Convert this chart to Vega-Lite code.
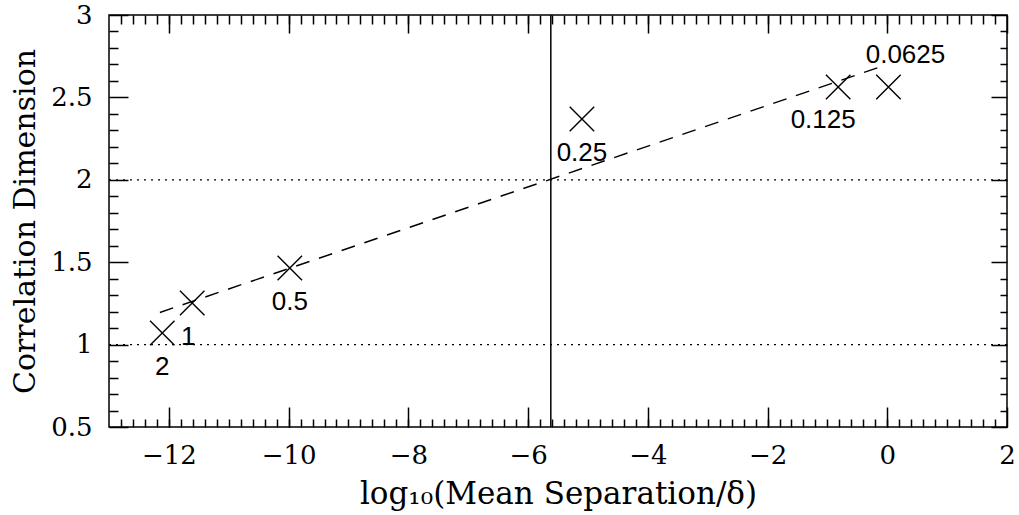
{
  "$schema": "https://vega.github.io/schema/vega-lite/v6.json",
  "width": 898,
  "height": 412,
  "autosize": {"type": "none"},
  "padding": {"left": 109, "top": 15, "right": 12, "bottom": 88},
  "background": "white",
  "config": {
    "view": {"stroke": "black", "strokeWidth": 1.5},
    "axis": {
      "grid": false,
      "domain": false,
      "tickColor": "black",
      "tickWidth": 1.5,
      "labelColor": "black",
      "labelFont": "DejaVu Serif",
      "labelFontSize": 26,
      "labelFlush": false,
      "labelOverlap": false,
      "titleColor": "black",
      "titleFont": "DejaVu Serif",
      "titleFontSize": 31,
      "titleFontWeight": "normal"
    }
  },
  "datasets": {
    "dims": [
      {"x": -12.11, "y": 1.07, "label": "2"},
      {"x": -11.61, "y": 1.252, "label": "1"},
      {"x": -9.98, "y": 1.465, "label": "0.5"},
      {"x": -5.1, "y": 2.369, "label": "0.25"},
      {"x": -0.82, "y": 2.563, "label": "0.125"},
      {"x": 0.02, "y": 2.563, "label": "0.0625"}
    ],
    "fit": [
      {"x": -12.15, "y": 1.195},
      {"x": -0.04, "y": 2.695}
    ],
    "vline": [{"x": -5.62}],
    "hlines": [{"y": 1}, {"y": 2}]
  },
  "layer": [
    {
      "data": {"name": "dims"},
      "mark": {"type": "point", "shape": "M-1,-1L1,1M-1,1L1,-1", "size": 600, "filled": false, "color": "black", "strokeWidth": 1.4, "opacity": 1},
      "encoding": {
        "x": {
          "field": "x", "type": "quantitative",
          "scale": {"domain": [-13, 2], "nice": false, "zero": false},
          "axis": {
            "orient": "bottom",
            "values": [-12, -10, -8, -6, -4, -2, 0, 2],
            "format": "~g",
            "offset": -20,
            "tickSize": 20,
            "labelPadding": 15,
            "title": "log₁₀(Mean Separation/δ)",
            "titlePadding": 11
          }
        },
        "y": {
          "field": "y", "type": "quantitative",
          "scale": {"domain": [0.5, 3], "nice": false, "zero": false},
          "axis": {
            "orient": "left",
            "values": [0.5, 1, 1.5, 2, 2.5, 3],
            "format": "~g",
            "offset": -19,
            "tickSize": 19,
            "labelPadding": 17,
            "title": "Correlation Dimension",
            "titleFontSize": 30,
            "titlePadding": 10
          }
        }
      }
    },
    {
      "data": {"name": "fit"},
      "mark": {"type": "line", "color": "black", "strokeWidth": 1.4, "strokeDash": [14, 10]},
      "encoding": {
        "x": {
          "field": "x", "type": "quantitative",
          "axis": {
            "orient": "bottom",
            "values": [-12.8,-12.6,-12.4,-12.2,-12.0,-11.8,-11.6,-11.4,-11.2,-11.0,-10.8,-10.6,-10.4,-10.2,-10.0,-9.8,-9.6,-9.4,-9.2,-9.0,-8.8,-8.6,-8.4,-8.2,-8.0,-7.8,-7.6,-7.4,-7.2,-7.0,-6.8,-6.6,-6.4,-6.2,-6.0,-5.8,-5.6,-5.4,-5.2,-5.0,-4.8,-4.6,-4.4,-4.2,-4.0,-3.8,-3.6,-3.4,-3.2,-3.0,-2.8,-2.6,-2.4,-2.2,-2.0,-1.8,-1.6,-1.4,-1.2,-1.0,-0.8,-0.6,-0.4,-0.2,0,0.2,0.4,0.6,0.8,1.0,1.2,1.4,1.6,1.8],
            "offset": -8,
            "tickSize": 8,
            "labels": false,
            "title": null
          }
        },
        "y": {
          "field": "y", "type": "quantitative",
          "axis": {
            "orient": "left",
            "values": [0.6,0.7,0.8,0.9,1.1,1.2,1.3,1.4,1.6,1.7,1.8,1.9,2.1,2.2,2.3,2.4,2.6,2.7,2.8,2.9],
            "offset": -9,
            "tickSize": 9,
            "labels": false,
            "title": null
          }
        }
      }
    },
    {
      "data": {"name": "vline"},
      "mark": {"type": "rule", "color": "black", "strokeWidth": 1.5},
      "encoding": {
        "x": {
          "field": "x", "type": "quantitative",
          "axis": {
            "orient": "top",
            "values": [-12, -10, -8, -6, -4, -2, 0, 2],
            "offset": -18,
            "tickSize": 18,
            "labels": false,
            "title": null
          }
        }
      }
    },
    {
      "data": {"name": "hlines"},
      "mark": {"type": "rule", "color": "black", "strokeWidth": 1.3, "strokeDash": [2, 5]},
      "encoding": {
        "y": {
          "field": "y", "type": "quantitative",
          "axis": {
            "orient": "right",
            "values": [0.5, 1, 1.5, 2, 2.5, 3],
            "offset": -16,
            "tickSize": 16,
            "labels": false,
            "title": null
          }
        }
      }
    },
    {
      "data": {"name": "dims"},
      "transform": [{"filter": {"field": "label", "oneOf": ["2", "0.5", "0.25"]}}],
      "mark": {"type": "text", "font": "Liberation Sans", "fontSize": 26, "color": "black", "align": "center", "baseline": "middle", "dy": 34},
      "encoding": {
        "x": {
          "field": "x", "type": "quantitative",
          "axis": {
            "orient": "top",
            "values": [-12.8,-12.6,-12.4,-12.2,-12.0,-11.8,-11.6,-11.4,-11.2,-11.0,-10.8,-10.6,-10.4,-10.2,-10.0,-9.8,-9.6,-9.4,-9.2,-9.0,-8.8,-8.6,-8.4,-8.2,-8.0,-7.8,-7.6,-7.4,-7.2,-7.0,-6.8,-6.6,-6.4,-6.2,-6.0,-5.8,-5.6,-5.4,-5.2,-5.0,-4.8,-4.6,-4.4,-4.2,-4.0,-3.8,-3.6,-3.4,-3.2,-3.0,-2.8,-2.6,-2.4,-2.2,-2.0,-1.8,-1.6,-1.4,-1.2,-1.0,-0.8,-0.6,-0.4,-0.2,0,0.2,0.4,0.6,0.8,1.0,1.2,1.4,1.6,1.8],
            "offset": -9,
            "tickSize": 9,
            "labels": false,
            "title": null
          }
        },
        "y": {
          "field": "y", "type": "quantitative",
          "axis": {
            "orient": "right",
            "values": [0.6,0.7,0.8,0.9,1.1,1.2,1.3,1.4,1.6,1.7,1.8,1.9,2.1,2.2,2.3,2.4,2.6,2.7,2.8,2.9],
            "offset": -7,
            "tickSize": 7,
            "labels": false,
            "title": null
          }
        },
        "text": {"field": "label"}
      }
    },
    {
      "data": {"name": "dims"},
      "transform": [{"filter": {"field": "label", "equal": "1"}}],
      "mark": {"type": "text", "font": "Liberation Sans", "fontSize": 26, "color": "black", "align": "center", "baseline": "middle", "dx": -4, "dy": 34},
      "encoding": {
        "x": {"field": "x", "type": "quantitative", "axis": null},
        "y": {"field": "y", "type": "quantitative", "axis": null},
        "text": {"field": "label"}
      }
    },
    {
      "data": {"name": "dims"},
      "transform": [{"filter": {"field": "label", "equal": "0.125"}}],
      "mark": {"type": "text", "font": "Liberation Sans", "fontSize": 26, "color": "black", "align": "center", "baseline": "middle", "dx": -15, "dy": 33},
      "encoding": {
        "x": {"field": "x", "type": "quantitative", "axis": null},
        "y": {"field": "y", "type": "quantitative", "axis": null},
        "text": {"field": "label"}
      }
    },
    {
      "data": {"name": "dims"},
      "transform": [{"filter": {"field": "label", "equal": "0.0625"}}],
      "mark": {"type": "text", "font": "Liberation Sans", "fontSize": 26, "color": "black", "align": "center", "baseline": "middle", "dx": 17, "dy": -32},
      "encoding": {
        "x": {"field": "x", "type": "quantitative", "axis": null},
        "y": {"field": "y", "type": "quantitative", "axis": null},
        "text": {"field": "label"}
      }
    }
  ],
  "resolve": {"axis": {"x": "independent", "y": "independent"}}
}
